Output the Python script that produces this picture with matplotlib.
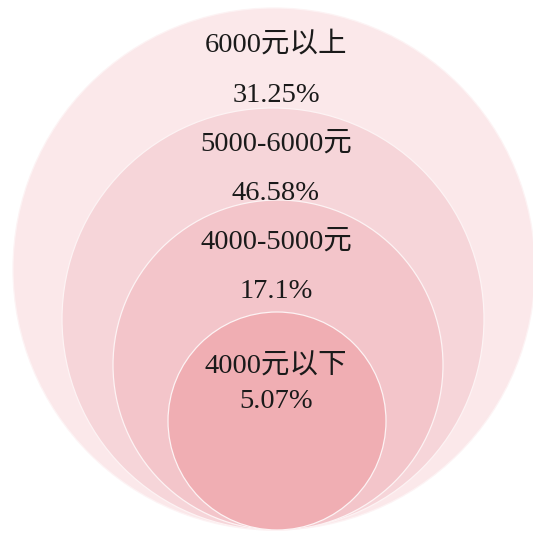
import matplotlib
matplotlib.use('Agg')
import matplotlib.pyplot as plt
import matplotlib.patches as patches

# data, outer ring first
labels = ['6000元以上', '5000-6000元', '4000-5000元', '4000元以下']
shares = [31.25, 46.58, 17.1, 5.07]

# layout (pixels, y going down)
radii = [261, 211, 165, 109]
centers_x = [274, 273, 278, 277]
bottom = 530
fills = ['#fbe8ea', '#f6d5d9', '#f3c5ca', '#f0aeb3']
label_y = [(45, 96), (144, 193), (242, 292), (367, 401)]

fig = plt.figure(figsize=(5.33, 5.33), dpi=100)
ax = fig.add_axes([0, 0, 1, 1])
ax.set_xlim(0, 533)
ax.set_ylim(533, 0)
ax.set_aspect('equal')
ax.axis('off')

for r, cx, color in zip(radii, centers_x, fills):
    ax.add_patch(patches.Circle((cx, bottom - r), r, facecolor=color,
                                edgecolor='#fdf3f4', linewidth=0.9))

font = ['Liberation Serif', 'Noto Sans CJK SC']
for name, share, (y1, y2) in zip(labels, shares, label_y):
    ax.text(276, y1, name, ha='center', va='center', fontsize=20.5,
            family=font, color='#1a1a1a')
    ax.text(276, y2, '{}%'.format(share), ha='center', va='center',
            fontsize=20.5, family=font, color='#1a1a1a')

fig.savefig('out.png', dpi=100)
plt.close(fig)
